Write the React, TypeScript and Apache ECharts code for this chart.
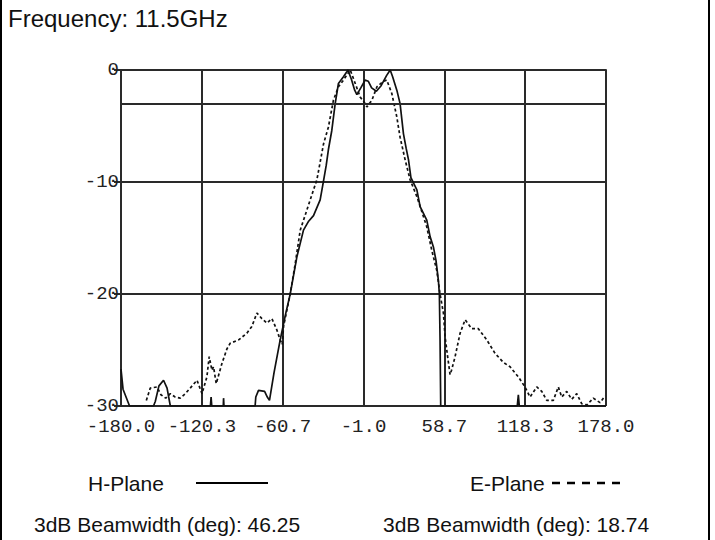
import React, { useEffect, useRef } from "react";
import * as echarts from "echarts";

const TITLE = "Frequency: 11.5GHz";
const X_TICK_COUNT = 6;
const X_MIN = -180;
const X_MAX = 178;
const Y_MIN = -30;
const Y_MAX = 0;
const Y_STEP = 10;
const REF_LEVEL = -3;

const hAngles = [
  -180, -178.5, -173.7, -156, -154.7, -152, -148.6, -146, -144.2, -143.6, -114, -113.5, -113, -104.5, -104.3,
  -104, -81, -80.5, -78.5, -74, -72, -70.4, -67, -62.5, -58.5, -55.1, -50.2, -45.3, -41.5, -37.9, -33, -30.5,
  -28.5, -26.9, -24.4, -21.9, -19.5, -15.8, -13.3, -12.5, -10, -7.5, -5.9, -3, 0.2, 2.5, 5, 8.5, 12, 16, 18.7,
  20.5, 23.6, 26, 28.5, 30.5, 32.2, 34, 38.4, 40.8, 45.7, 48.2, 50.6, 52.5, 54.3, 55, 55.5, 56, 112.5, 113.3,
  114, 178,
];
const hValues = [
  -26.7, -28.5, -30, -30, -29.6, -28.2, -27.7, -28.4, -29.6, -30, -30, -29.2, -30, -30, -29.3,
  -30, -30, -29.2, -28.6, -28.7, -29.2, -29.5, -27, -24.1, -21.8, -20, -16.7, -14.3, -13.5, -13.0, -11.6, -9.9,
  -8.5, -7.1, -5.4, -3.0, -1.2, -0.6, -0.15, 0, -0.8, -1.8, -2.2, -1.6, -0.9, -1.0, -1.6, -1.9, -1.4, -0.5, 0,
  -0.6, -1.8, -3, -5.7, -7, -8.0, -9.6, -10.7, -12.2, -13.4, -14.9, -15.8, -17, -18.8, -20, -24, -30, -30, -29,
  -30, -30,
];

const eAngles = [
  -161.3, -158.4, -153.4, -150.5, -147, -143.6, -140, -136.3, -132.5, -128.9, -123.9, -120.2, -116.6, -114.9,
  -112.9, -111.7, -109.7, -105.5, -101.8, -99.4, -93.2, -87.1, -83.4, -79.7, -76, -72.3, -68.6, -65, -62.5, -61,
  -60, -57.5, -55.1, -51.4, -47.7, -42.8, -37.9, -35.4, -30.5, -26.9, -23.2, -19.5, -15.8, -10.8, -7.1, -3.5,
  0.2, 1.5, 5.2, 8.9, 13.7, 16.2, 19.9, 23.6, 26, 29.7, 33.4, 38.4, 45.7, 49.4, 53.1, 55.5, 58, 59.2, 61, 62.9,
  64, 66.6, 70.3, 74, 78.9, 83.8, 90, 96.1, 102.2, 107.2, 113.3, 118.2, 121.9, 126.9, 130.6, 134.3, 139.1, 142.8,
  145.3, 149, 152.7, 156.4, 160.1, 164, 168.6, 173.6, 177.3,
];
const eValues = [
  -29.5, -28.4, -28.3, -29.0, -29.3, -28.9, -29.2, -29.3, -28.9, -28.4, -27.7, -28.9, -27.4, -25.6,
  -26.8, -26.5, -28, -26.2, -24.9, -24.4, -24.1, -23.5, -22.9, -21.7, -22.2, -22.6, -22.2, -23.2, -24.1, -24.5,
  -22.9, -21.4, -20, -17.3, -14.3, -12.5, -10.7, -9.8, -6.6, -5.1, -2.7, -1.5, -0.9, 0, -1.2, -2.4,
  -3.0, -3.3, -2.7, -1.5, -1.0, -0.9, -2.1, -4.2, -6.0, -8, -9.8, -11.3, -14, -16.1, -17.9, -20, -21.7, -23.8, -25.5, -27.2,
  -26.8, -25.6, -23.5, -22.3, -23.1, -23.1, -24.1, -25.3, -26.1, -26.5, -27.4, -28.3, -29.2, -28.3, -28.7, -29.5, -29.5, -28.3,
  -29.2, -28.7, -29.4, -28.9, -29.8, -29.9, -29.3, -29.7, -29.1,
];

const legendNames = ["H-Plane", "E-Plane"];
const beamwidths = ["46.25", "18.74"];

export default function App() {
  const ref = useRef<HTMLDivElement>(null);
  useEffect(() => {
    if (!ref.current) return;
    const chart = echarts.init(ref.current, undefined, { renderer: "svg" });
    // x axis works on an offset scale starting at 0 so ticks align with the minimum
    const span = X_MAX - X_MIN;
    const toX = (d: number) => d - X_MIN;
    const hData = hAngles.map((a, i) => [toX(a), hValues[i]]);
    const eData = eAngles.map((a, i) => [toX(a), eValues[i]]);
    const monoFont = "Liberation Mono";
    const gridColor = "#2a2a2a";
    const textStyle = { fontFamily: "Liberation Sans", fontSize: 21, fill: "#111" };
    chart.setOption({
      animation: false,
      backgroundColor: "#fff",
      grid: { left: 121, right: 109, top: 70, bottom: 134, show: false },
      xAxis: {
        type: "value",
        min: 0,
        max: span,
        interval: span / X_TICK_COUNT,
        axisLine: { show: true, lineStyle: { color: gridColor, width: 2 } },
        axisTick: { show: true, length: 7, inside: false, lineStyle: { color: gridColor, width: 2 } },
        axisLabel: {
          margin: 11,
          color: "#222",
          fontFamily: monoFont,
          fontSize: 19,
          formatter: (v: number) => (v + X_MIN).toFixed(1),
        },
        splitLine: { show: true, lineStyle: { color: gridColor, width: 2 } },
      },
      yAxis: {
        type: "value",
        min: Y_MIN,
        max: Y_MAX,
        interval: Y_STEP,
        axisLine: { show: true, lineStyle: { color: gridColor, width: 2 } },
        axisTick: { show: true, length: 7, lineStyle: { color: gridColor, width: 2 } },
        axisLabel: { margin: 2, color: "#222", fontFamily: monoFont, fontSize: 19 },
        splitLine: { show: true, lineStyle: { color: gridColor, width: 2 } },
      },
      series: [
        {
          name: legendNames[0],
          type: "line",
          data: hData,
          showSymbol: false,
          lineStyle: { color: "#111", width: 1.7 },
          markLine: {
            silent: true,
            symbol: "none",
            label: { show: false },
            lineStyle: { color: gridColor, width: 2, type: "solid" },
            data: [{ yAxis: REF_LEVEL }],
          },
        },
        {
          name: legendNames[1],
          type: "line",
          data: eData,
          showSymbol: false,
          lineStyle: { color: "#111", width: 1.7, type: [3, 2.5] },
        },
      ],
      graphic: [
        { type: "rect", shape: { x: 0, y: 0, width: 2, height: 540 }, style: { fill: "#000" } },
        { type: "rect", shape: { x: 708, y: 0, width: 2, height: 540 }, style: { fill: "#000" } },
        { type: "text", left: 8, top: 6, style: { ...textStyle, fontSize: 24, text: TITLE } },
        { type: "text", x: 88, y: 483, style: { ...textStyle, text: legendNames[0], verticalAlign: "middle" } },
        { type: "line", shape: { x1: 196, y1: 483, x2: 268, y2: 483 }, style: { stroke: "#000", lineWidth: 2 } },
        { type: "text", x: 470, y: 483, style: { ...textStyle, text: legendNames[1], verticalAlign: "middle" } },
        {
          type: "line",
          shape: { x1: 552, y1: 483, x2: 622, y2: 483 },
          style: { stroke: "#000", lineWidth: 2.5, lineDash: [8, 7] },
        },
        {
          type: "text",
          x: 34,
          y: 524,
          style: { ...textStyle, text: "3dB Beamwidth (deg): " + beamwidths[0], verticalAlign: "middle" },
        },
        {
          type: "text",
          x: 383,
          y: 524,
          style: { ...textStyle, text: "3dB Beamwidth (deg): " + beamwidths[1], verticalAlign: "middle" },
        },
      ],
    });
    return () => chart.dispose();
  }, []);
  return (
    <div
      ref={ref}
      style={{ position: "fixed", left: 0, top: 0, width: 715, height: 540, background: "#fff" }}
    />
  );
}
